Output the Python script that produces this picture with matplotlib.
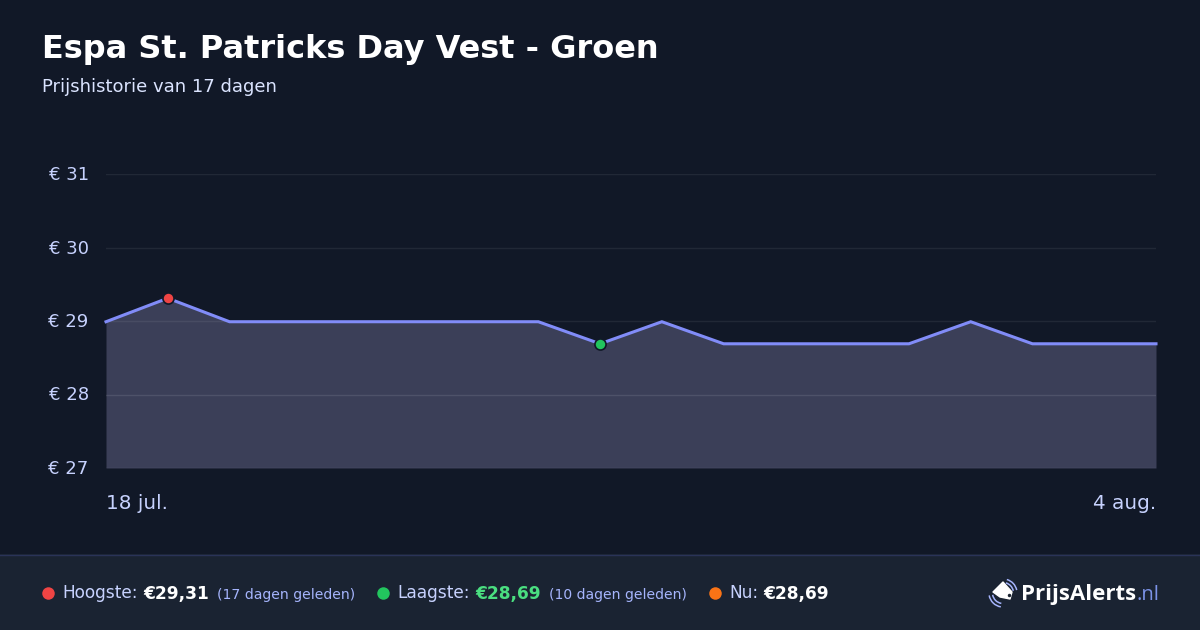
# chart recreation: price history card
import matplotlib
matplotlib.use('Agg')
import numpy as np
import matplotlib.pyplot as plt
from matplotlib.patches import Polygon, Arc, Rectangle
from matplotlib.transforms import ScaledTranslation

# data
days = list(range(18))
prices = [28.99, 29.31, 28.99, 28.99, 28.99, 28.99, 28.99, 28.99, 28.69,
          28.99, 28.69, 28.69, 28.69, 28.69, 28.99, 28.69, 28.69, 28.69]
y_ticks = [27, 28, 29, 30, 31]
y_labels = ['€ 27', '€ 28', '€ 29', '€ 30', '€ 31']
x_labels = ['18 jul.', '4 aug.']
high_idx = 1
low_idx = 8

BG = '#111827'
FOOT = '#1a2332'
LINE = '#818cf8'
LABEL = '#c7d2fe'
FILL = '#3b3f58'

fig = plt.figure(figsize=(12, 6.3), dpi=100, facecolor=BG)

# overlay in pixel coordinates for the footer and the titles
bg = fig.add_axes([0, 0, 1, 1])
bg.set_xlim(0, 1200)
bg.set_ylim(630, 0)
bg.axis('off')
bg.add_patch(Rectangle((0, 554), 1200, 76, fc=FOOT, ec='none'))
bg.plot([0, 1200], [554.5, 554.5], color='#2a3358', lw=1)

bg.text(42, 58, 'Espa St. Patricks Day Vest - Groen', color='white', fontsize=23.04,
        fontweight='bold', va='baseline', ha='left')
bg.text(42, 92, 'Prijshistorie van 17 dagen', color='#dbe4ff', fontsize=12.96,
        va='baseline', ha='left')

# plot area
ax = fig.add_axes([106 / 1200, 1 - 468 / 630, 1050 / 1200, 294 / 630])
ax.set_facecolor('none')
ax.set_xlim(0, 17)
ax.set_ylim(27, 31)
for s in ax.spines.values():
    s.set_visible(False)
ax.fill_between(days, prices, 27, color=FILL, lw=0, zorder=1)
for t in y_ticks:
    ax.axhline(t, color='white', alpha=0.07 if t > 28 else 0.1, lw=1, zorder=2)
ax.plot(days, prices, color=LINE, lw=2.2, clip_on=False, zorder=3,
        solid_joinstyle='miter')
ax.plot(days[high_idx], prices[high_idx], 'o', ms=8, mfc='#ef4444', mec=BG, mew=1.2, zorder=4)
ax.plot(days[low_idx], prices[low_idx], 'o', ms=8, mfc='#22c55e', mec=BG, mew=1.2, zorder=4)
ax.set_yticks(y_ticks)
ax.set_yticklabels(y_labels, fontsize=12.96, color=LABEL, va='center')
ax.set_xticks([])
ax.tick_params(axis='y', length=0, pad=12.5)
# labels sit one pixel lower than the default centring
down = ScaledTranslation(0, -1 / 100, fig.dpi_scale_trans)
for lab in ax.get_yticklabels():
    lab.set_transform(lab.get_transform() + down)

bg.text(106, 509, x_labels[0], color=LABEL, fontsize=14.4, va='baseline', ha='left')
bg.text(1156, 509, x_labels[1], color=LABEL, fontsize=14.4, va='baseline', ha='right')

# footer stats
def foot(x, s, color, size, weight='normal'):
    bg.text(x, 598.5, s, color=color, fontsize=size, fontweight=weight,
            va='baseline', ha='left')

bg.plot(48, 593, 'o', ms=9, color='#ef4444', mew=0)
foot(62, 'Hoogste:', LABEL, 12.24)
foot(143, '€29,31', 'white', 12.24, 'bold')
foot(217, '(17 dagen geleden)', '#a5b4fc', 10.08)
bg.plot(383, 593, 'o', ms=9, color='#22c55e', mew=0)
foot(397, 'Laagste:', LABEL, 12.24)
foot(475, '€28,69', '#4ade80', 12.24, 'bold')
foot(549, '(10 dagen geleden)', '#a5b4fc', 10.08)
bg.plot(715, 593, 'o', ms=9, color='#f97316', mew=0)
foot(729, 'Nu:', LABEL, 12.24)
foot(763, '€28,69', 'white', 12.24, 'bold')

# logo
bg.add_patch(Polygon([(1003, 582), (1012, 592), (1010, 599), (1000, 597), (993, 592)],
                     closed=True, fc='white', ec='white', lw=1, joinstyle='round'))
bg.plot(1008.5, 595, 'o', ms=2.5, color=FOOT, mew=0)
for d, col in ((28, '#a5b4fc'), (21, '#a5b4fc')):
    bg.add_patch(Arc((1003, 593), d, d, theta1=-74, theta2=-12, ec=col, lw=1.1))
    bg.add_patch(Arc((1003, 593), d, d, theta1=99, theta2=170, ec=col, lw=1.1))
bg.text(1021, 600, 'PrijsAlerts', color='white', fontsize=16, fontweight='bold',
        family='Open Sans', va='baseline', ha='left')
bg.text(1137, 600, '.nl', color='#7c93e8', fontsize=14.5, family='Open Sans',
        va='baseline', ha='left')

fig.savefig('out.png', dpi=100, facecolor=BG)
